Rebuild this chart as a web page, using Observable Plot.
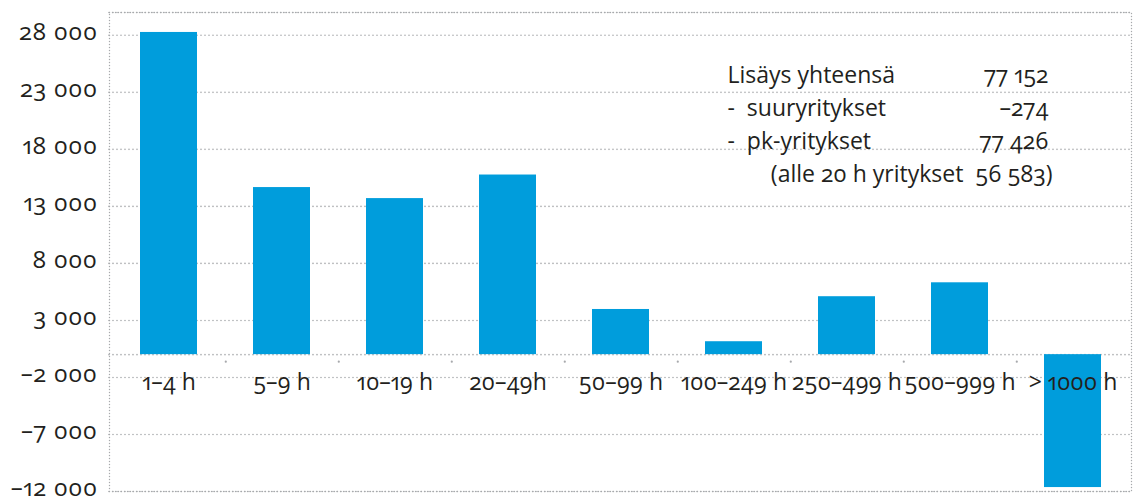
<!DOCTYPE html>
<html><head><meta charset="utf-8">
<script src="https://cdn.jsdelivr.net/npm/d3@7"></script>
<script src="https://cdn.jsdelivr.net/npm/@observablehq/plot@0.6"></script>
<style>
html,body{margin:0;padding:0;background:#fff;}
#chart svg{display:block;overflow:visible;}
</style></head><body><div id="chart"></div>
<script>
const categories = ["1–4 h","5–9 h","10–19 h","20–49h","50–99 h","100–249 h","250–499 h","500–999 h","> 1000 h"];
const values = [28250, 14650, 13683, 15750, 3960, 1133, 5080, 6300, -11654];
const yTicks = [28000, 23000, 18000, 13000, 8000, 3000, -2000, -7000, -12000];
const yDomain = [-12000, 30000];
const noteLabels = ["Lisäys yhteensä", "-  suuryritykset", "-  pk-yritykset"];
const noteValues = ["77 152", "–274", "77 426"];
const noteFooter = "(alle 20 h yritykset  56 583)";

const W = 1136, H = 503, mL = 109, mR = 5, mT = 12, mB = 12;
const step = (W - mL - mR) / categories.length;
const grid = "#a7a9ac", ink = "#231f20", blue = "#009ddc";
const FONT = "'Open Sans', Lato, sans-serif";
const fs = 23;
const fmt = n => (n < 0 ? "–" : "") + d3.format(",")(Math.abs(n)).replace(/,/g, " ");
const data = categories.map((c, i) => ({cat: c, value: values[i]}));

const chart = Plot.plot({
  width: W, height: H,
  marginLeft: mL, marginRight: mR, marginTop: mT, marginBottom: mB,
  style: {fontFamily: FONT, fontSize: fs + "px", color: ink},
  x: {domain: categories, axis: null, paddingInner: 0.5, paddingOuter: 0.25},
  y: {domain: yDomain, ticks: yTicks, tickFormat: fmt, tickSize: 0, tickPadding: 12, label: null},
  marks: [
    Plot.ruleY(yTicks, {stroke: grid, strokeWidth: 1.6, strokeDasharray: "0 4", strokeLinecap: "round"}),
    Plot.ruleY([0], {stroke: grid, strokeWidth: 1.6, strokeDasharray: "0 4", strokeLinecap: "round"}),
    Plot.ruleY([yDomain[1]], {stroke: grid, strokeWidth: 1.6, strokeDasharray: "0 4", strokeLinecap: "round"}),
    Plot.frame({stroke: grid, strokeWidth: 1.4, strokeDasharray: "0 3", strokeLinecap: "round"}),
    Plot.dot(categories.slice(0, -1), {x: d => d, y: 0, dx: step / 2, dy: 7, r: 1.1, fill: grid, stroke: "none"}),
    Plot.barY(data, {x: "cat", y: "value", fill: blue}),
    Plot.text(categories, {x: d => d, y: 0, dy: 28, fontSize: fs, fill: ink}),
    Plot.text([noteLabels.join("\n")], {frameAnchor: "top-left", dx: 618, dy: 47, textAnchor: "start", lineAnchor: "top", lineHeight: 1.43, fontSize: fs, fill: ink}),
    Plot.text([noteValues.join("\n")], {frameAnchor: "top-right", dx: -83, dy: 47, textAnchor: "end", lineAnchor: "top", lineHeight: 1.43, fontSize: fs, fill: ink}),
    Plot.text(["\n\n\n" + noteFooter], {frameAnchor: "top-right", dx: -79, dy: 47, textAnchor: "end", lineAnchor: "top", lineHeight: 1.43, fontSize: fs, fill: ink})
  ]
});
const sel = d3.select(chart);
sel.selectAll("[font-variant]").attr("font-variant", null);
sel.selectAll("g, text, tspan").style("font-variant-numeric", "oldstyle-nums proportional-nums");
sel.selectAll("g[aria-label^='y-axis'] text")
  .style("font-size", "24px").style("letter-spacing", "0.6px")
  .attr("dy", "-3");
document.getElementById("chart").appendChild(chart);
</script></body></html>
